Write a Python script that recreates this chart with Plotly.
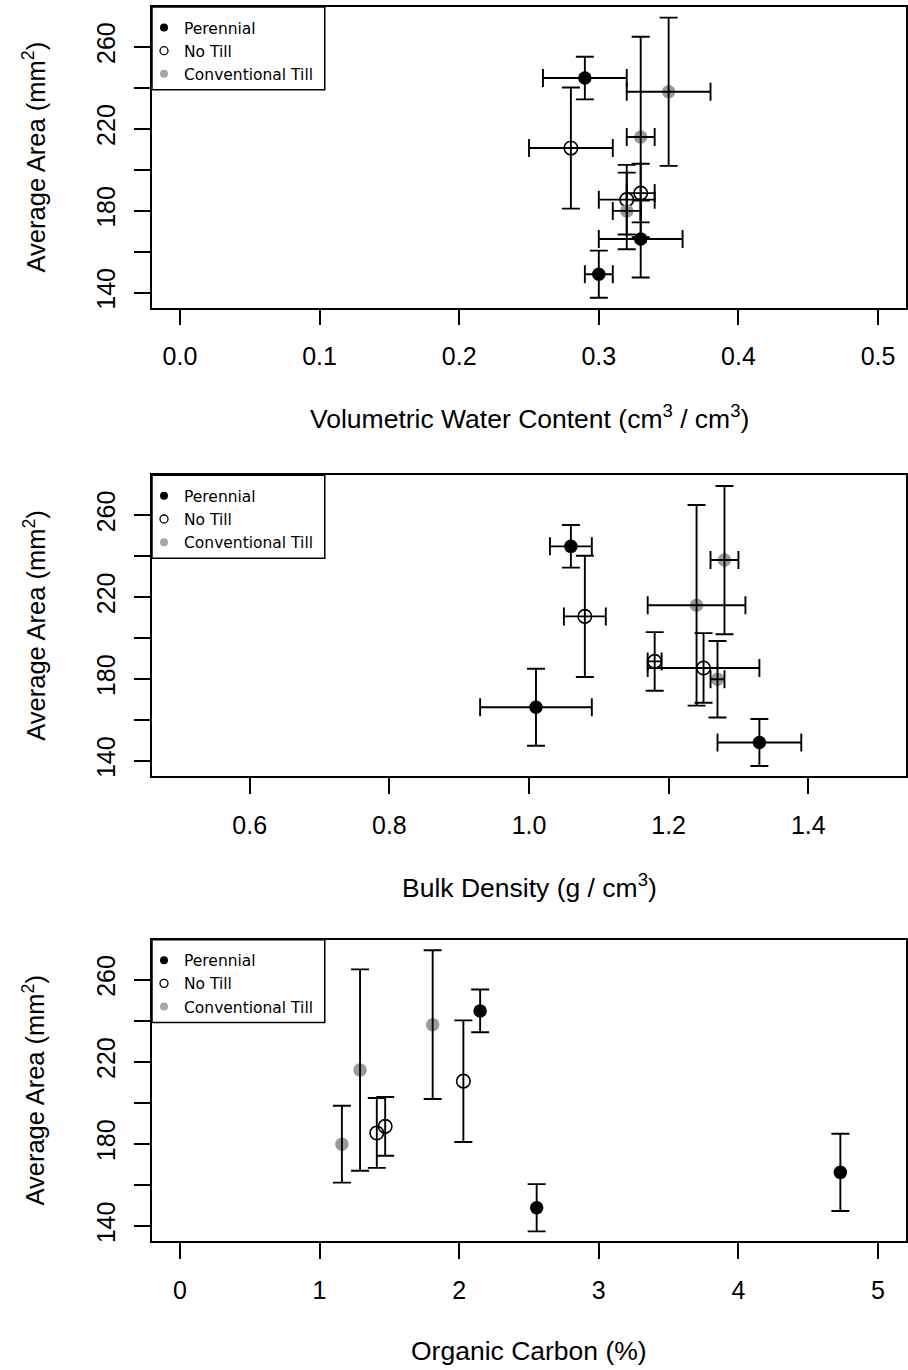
import plotly.graph_objects as go

# ---------------- data ----------------
group_names = ["Perennial", "No Till", "Conventional Till"]

perennial_area = [244.8, 166.2, 149.0]
perennial_area_se = [10.4, 18.8, 11.5]
perennial_vwc = [0.29, 0.33, 0.30]
perennial_vwc_se = [0.03, 0.03, 0.01]
perennial_bd = [1.06, 1.01, 1.33]
perennial_bd_se = [0.03, 0.08, 0.06]
perennial_oc = [2.15, 4.73, 2.555]

notill_area = [210.6, 185.4, 188.6]
notill_area_se = [29.6, 17.0, 14.3]
notill_vwc = [0.28, 0.32, 0.33]
notill_vwc_se = [0.03, 0.02, 0.01]
notill_bd = [1.08, 1.25, 1.18]
notill_bd_se = [0.03, 0.08, 0.01]
notill_oc = [2.03, 1.41, 1.47]

conv_area = [216.0, 238.1, 179.9]
conv_area_se = [49.0, 36.2, 18.7]
conv_vwc = [0.33, 0.35, 0.32]
conv_vwc_se = [0.01, 0.03, 0.01]
conv_bd = [1.24, 1.28, 1.27]
conv_bd_se = [0.07, 0.02, 0.01]
conv_oc = [1.29, 1.81, 1.16]

y_tick_values = [140, 180, 220, 260]
y_tick_labels = ["140", "180", "220", "260"]
y_minor_tick_values = [160, 200, 240]
vwc_ticks = [0.0, 0.1, 0.2, 0.3, 0.4, 0.5]
vwc_tick_labels = ["0.0", "0.1", "0.2", "0.3", "0.4", "0.5"]
bd_ticks = [0.6, 0.8, 1.0, 1.2, 1.4]
bd_tick_labels = ["0.6", "0.8", "1.0", "1.2", "1.4"]
oc_ticks = [0, 1, 2, 3, 4, 5]
oc_tick_labels = ["0", "1", "2", "3", "4", "5"]

x_titles = ["Volumetric Water Content (cm<sup>3</sup> / cm<sup>3</sup>)",
            "Bulk Density (g / cm<sup>3</sup>)",
            "Organic Carbon (%)"]
y_title = "Average Area (mm<sup>2</sup>)"

# ---------------- styling ----------------
W, H = 908, 1370
L, R = 152, 1
PW = W - L - R
FONT = "Liberation Sans, Arial, sans-serif"
LEG_FONT = "DejaVu Sans, sans-serif"
GRAY = "#9a9a9a"
styles = [
    dict(symbol="circle", color="black", line=dict(width=0)),
    dict(symbol="circle-open", color="black", line=dict(width=1.6)),
    dict(symbol="circle", color="#a8a8a8", line=dict(width=0)),
]
data_colors = ["black", "black", GRAY]

# panel pixel boxes (top, bottom)
boxes = [(7, 308), (476, 777), (941, 1243)]

def dom(top, bot):
    return [1 - bot / H, 1 - top / H]

fig = go.Figure()

areas = [perennial_area, notill_area, conv_area]
area_ses = [perennial_area_se, notill_area_se, conv_area_se]
panel_x = [
    ([perennial_vwc, notill_vwc, conv_vwc], [perennial_vwc_se, notill_vwc_se, conv_vwc_se]),
    ([perennial_bd, notill_bd, conv_bd], [perennial_bd_se, notill_bd_se, conv_bd_se]),
    ([perennial_oc, notill_oc, conv_oc], None),
]

for p in range(3):
    xs, xses = panel_x[p]
    xa = "x" if p == 0 else f"x{p+1}"
    ya = "y" if p == 0 else f"y{p+1}"
    # markers
    for g in range(3):
        st = styles[g]
        fig.add_trace(go.Scatter(
            x=xs[g], y=areas[g], mode="markers", xaxis=xa, yaxis=ya,
            marker=dict(symbol=st["symbol"], size=13.5, color=data_colors[g], line=st["line"]),
            showlegend=False, hoverinfo="skip"))
    # error bars on top
    for g in range(3):
        ex = None
        if xses is not None:
            ex = dict(type="data", array=xses[g], visible=True, color="black",
                      thickness=1.9, width=9)
        fig.add_trace(go.Scatter(
            x=xs[g], y=areas[g], mode="markers", xaxis=xa, yaxis=ya,
            marker=dict(size=1, color="rgba(0,0,0,0)"),
            error_y=dict(type="data", array=area_ses[g], visible=True, color="black",
                         thickness=1.9, width=9),
            error_x=ex,
            showlegend=False, hoverinfo="skip"))
    # legend entries
    lg = "legend" if p == 0 else f"legend{p+1}"
    for g in range(3):
        st = styles[g]
        fig.add_trace(go.Scatter(
            x=[None], y=[None], mode="markers", xaxis=xa, yaxis=ya,
            name=group_names[g], legend=lg,
            marker=dict(symbol=st["symbol"], size=8, color=st["color"],
                        line=dict(width=1.3 if g == 1 else 0))))

axis_common = dict(showline=True, mirror=True, linecolor="black", linewidth=1.7,
                   ticks="outside", ticklen=16, tickwidth=1.6, tickcolor="black",
                   showgrid=False, zeroline=False, title=dict(text=""),
                   tickfont=dict(family=FONT, size=25, color="black"))

xranges = [[-0.02, 0.52], [0.46, 1.54], [-0.2, 5.2]]
xtickv = [vwc_ticks, bd_ticks, oc_ticks]
xtickt = [vwc_tick_labels, bd_tick_labels, oc_tick_labels]

layout = dict(width=W, height=H, margin=dict(l=L, r=R, t=0, b=0),
              paper_bgcolor="white", plot_bgcolor="white", showlegend=True)
annotations = []
shapes = []
for p in range(3):
    top, bot = boxes[p]
    xk = "xaxis" if p == 0 else f"xaxis{p+1}"
    yk = "yaxis" if p == 0 else f"yaxis{p+1}"
    ya = "y" if p == 0 else f"y{p+1}"
    layout[xk] = dict(axis_common, domain=[0, 1], range=xranges[p], anchor=ya,
                      tickmode="array", tickvals=xtickv[p], ticktext=xtickt[p],
                      ticklabelstandoff=10)
    layout[yk] = dict(axis_common, domain=dom(top, bot), range=[132.7, 279.5],
                      anchor="x" if p == 0 else f"x{p+1}",
                      tickmode="array", tickvals=y_tick_values, ticktext=y_tick_labels,
                      tickangle=-90, ticklabelstandoff=9,
                      minor=dict(tickmode="array", tickvals=y_minor_tick_values,
                                 ticks="outside", ticklen=16, tickwidth=1.6,
                                 tickcolor="black", showgrid=False))
    # legend frame
    shapes.append(dict(type="rect", xref="paper", yref="paper", layer="above",
                       x0=0, x1=(325 - L) / PW, y0=1 - (top + 83) / H, y1=1 - top / H,
                       line=dict(color="black", width=1.5), fillcolor="white"))
    lg = "legend" if p == 0 else f"legend{p+1}"
    layout[lg] = dict(x=0, y=1 - (top + 4) / H, xanchor="left", yanchor="top",
                      xref="paper", yref="paper",
                      bgcolor="rgba(0,0,0,0)", borderwidth=0,
                      font=dict(family=LEG_FONT, size=15.5, color="black"),
                      tracegroupgap=0, itemwidth=30, indentation=-8)
    # x title
    annotations.append(dict(text=x_titles[p], xref="paper", yref="paper",
                            x=0.5, y=1 - (bot + 110) / H, xanchor="center", yanchor="middle",
                            showarrow=False, font=dict(family=FONT, size=26.5, color="black")))
    # y title
    annotations.append(dict(text=y_title, xref="paper", yref="paper",
                            x=(34 - L) / PW, y=1 - (top + bot) / 2 / H,
                            xanchor="center", yanchor="middle", textangle=-90,
                            showarrow=False, font=dict(family=FONT, size=25.5, color="black")))
layout["annotations"] = annotations
layout["shapes"] = shapes
fig.update_layout(**layout)

fig.write_html("out.html")
